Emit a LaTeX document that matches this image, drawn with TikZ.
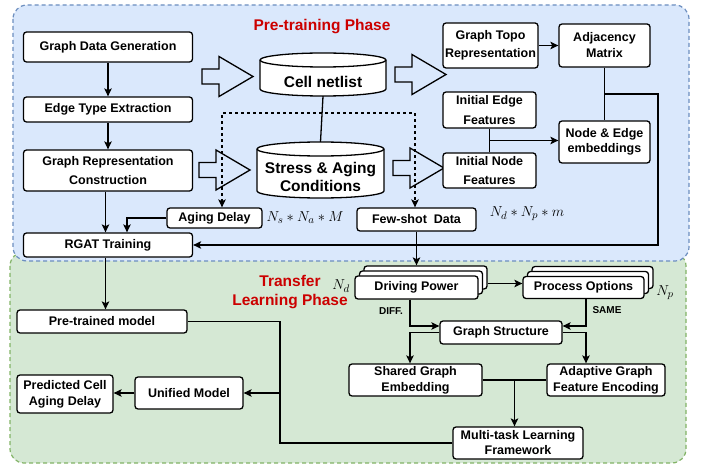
\documentclass[tikz,border=0pt]{standalone}
\usepackage{fontspec}
\setmainfont{Liberation Sans}
\usepackage{tikz}
\usetikzlibrary{arrows.meta,calc,shadows}

\definecolor{bluefill}{HTML}{DAE8FC}
\definecolor{blueline}{HTML}{6C8EBF}
\definecolor{greenfill}{HTML}{D5E8D4}
\definecolor{greenline}{HTML}{82B366}
\definecolor{phasered}{HTML}{CC0000}

\begin{document}
\begin{tikzpicture}[x=1pt,y=-1pt,>={Stealth[length=8pt,width=7.5pt,inset=1.8pt]}]
 \tikzstyle{procbox} = [draw=black,line width=1.3pt,fill=white,rounded corners=3pt,align=center,inner sep=0,font=\bfseries\fontsize{12.5}{15}\selectfont]
 \tikzstyle{stackbox} = [procbox,copy shadow={shadow xshift=9pt,shadow yshift=10pt,draw=black,fill=white,line width=1.3pt},copy shadow={shadow xshift=4.5pt,shadow yshift=5pt,draw=black,fill=white,line width=1.3pt}]
 \tikzstyle{cyltext} = [align=center,inner sep=0,font=\bfseries\fontsize{15.5}{18}\selectfont]
 \tikzstyle{fatarr} = [draw=black,line width=1.3pt,line join=miter]
 \tikzstyle{link} = [line width=1.3pt]
 \tikzstyle{dashlink} = [line width=1.3pt,dash pattern=on 3pt off 3pt]
 \tikzstyle{phase} = [text=phasered,align=center,font=\bfseries\fontsize{15.5}{19}\selectfont]
 \tikzstyle{count} = [font=\fontsize{15}{18}\selectfont]
 \tikzstyle{tag} = [font=\bfseries\fontsize{10}{12}\selectfont]
 \newcommand{\fatarrow}[2]{\draw[fatarr] (#1,{#2-7.5}) -- ({#1+17},{#2-7.5}) -- ({#1+17},{#2-20}) -- ({#1+51},#2) -- ({#1+17},{#2+20}) -- ({#1+17},{#2+7.5}) -- (#1,{#2+7.5}) -- cycle;}
 \newcommand{\dbcyl}[6]{%
  \draw[line width=1.3pt,fill=white] ({#2-#5/2},{#3+7}) -- ({#2-#5/2},{#4-7}) arc[start angle=180,end angle=360,x radius=#5/2*1pt,y radius=7pt]
        -- ({#2+#5/2},{#3+7}) arc[start angle=0,end angle=180,x radius=#5/2*1pt,y radius=7pt] -- cycle;
  \draw[line width=1.3pt] ({#2-#5/2},{#3+7}) arc[start angle=180,end angle=360,x radius=#5/2*1pt,y radius=7pt];
  \node[cyltext,minimum width=#5,minimum height={#4-#3-14}] (#1) at (#2,{(#3+#4+14)/2}) {#6};}

 \useasboundingbox (0,0) rectangle (702,465);

% Phases
 \draw[fill=greenfill,draw=greenline,line width=1.2pt,dash pattern=on 4pt off 3pt,rounded corners=14pt] (10,252) rectangle (686,463);
 \draw[fill=bluefill,draw=blueline,line width=1.2pt,dash pattern=on 4pt off 3pt,rounded corners=14pt] (13,5) rectangle (689,261);
 \node[phase] (tpre) at (322,27) {Pre-training Phase};
 \node[phase] (ttl) at (290,292.5) {Transfer\\Learning Phase};

% Block arrows
 \fatarrow{202}{76.5}
 \fatarrow{395}{74.5}
 \fatarrow{199}{170}
 \fatarrow{393}{168}

% Databases
 \dbcyl{cn}{323}{53}{96}{126}{Cell netlist}
 \dbcyl{sac}{320.5}{142}{198}{127}{Stress \& Aging\\Conditions}

% Nodes
 \node[procbox,minimum width=169,minimum height=30] (gdg) at (108,47) {Graph Data Generation};
 \node[procbox,minimum width=169,minimum height=25] (ete) at (108,109.5) {Edge Type Extraction};
 \node[procbox,minimum width=169,minimum height=41] (grc) at (108,170.5) {Graph Representation\\[4pt]Construction};
 \node[procbox,minimum width=169,minimum height=24] (rgat) at (108,245) {RGAT Training};
 \node[procbox,minimum width=95,minimum height=20] (ad) at (214.5,218) {Aging Delay};
 \node[procbox,minimum width=119,minimum height=23] (fs) at (416.5,219.5) {Few-shot~~Data};
 \node[procbox,minimum width=95,minimum height=45] (gtr) at (490.5,45.5) {Graph Topo\\[3pt]Representation};
 \node[procbox,minimum width=91,minimum height=43] (am) at (604.5,45.5) {Adjacency\\[1pt]Matrix};
 \node[procbox,minimum width=93,minimum height=36] (ief) at (489.5,110) {Initial Edge\\[5pt]Features};
 \node[procbox,minimum width=91,minimum height=42] (nee) at (604.5,142) {Node \& Edge\\embeddings};
 \node[procbox,minimum width=93,minimum height=35] (inf) at (489.5,170.5) {Initial Node\\[4pt]Features};
 \node[stackbox,minimum width=123,minimum height=23] (dp) at (416.5,287.5) {Driving Power};
 \node[stackbox,minimum width=121,minimum height=22] (po) at (583.5,287.5) {Process Options};
 \node[procbox,minimum width=122,minimum height=23] (gs) at (501,332.5) {Graph Structure};
 \node[procbox,minimum width=133,minimum height=32] (sge) at (415.5,380) {Shared Graph\\[1pt]Embedding};
 \node[procbox,minimum width=118,minimum height=32] (agfe) at (606,380) {Adaptive Graph\\[1pt]Feature Encoding};
 \node[procbox,minimum width=130,minimum height=32] (mtl) at (518,443) {Multi-task Learning\\Framework};
 \node[procbox,minimum width=170,minimum height=23] (ptm) at (102,321.5) {Pre-trained model};
 \node[procbox,minimum width=108,minimum height=32] (um) at (189,393) {Unified Model};
 \node[procbox,minimum width=96,minimum height=38] (pcad) at (65,394) {Predicted Cell\\[1pt]Aging Delay};

% Counts and tags
 \node[count] (lad) at (305,218) {$N_s * N_a * M$};
 \node[count] (lfs) at (527,214) {$N_d * N_p * m$};
 \node[count] (ldp) at (341,286) {$N_d$};
 \node[count] (lpo) at (665,293) {$N_p$};
 \node[tag] (tdiff) at (391,311) {DIFF.};
 \node[tag] (tsame) at (607,310) {SAME};

% Pre-training links
 \draw[link,->] (gdg) -- (ete);
 \draw[link,->] (ete) -- (grc);
 \coordinate (grs) at ([xshift=-2.5pt]grc.south);
 \draw[link,->] (grs) -- (grs |- rgat.north);
 \draw[link,->] (ad.west) -| ([xshift=19pt]rgat.north);
 \draw[link] (cn.south) -- ([yshift=14pt]sac.north);
 \draw[link,->] (gtr) -- (am);
 \draw[link] (am) -- (nee);
 \coordinate (amj) at ($(am.south)!0.5!(nee.north)$);
 \coordinate (rx) at (658,0);
 \draw[link,->] (amj) -| (rx |- rgat.east) -- (rgat.east);
 \draw[link] (ief) -- (inf);
 \coordinate (efj) at ($(ief.south)!0.5!(inf.north)$);
 \draw[link,->] (efj) -- (efj -| nee.west);
 \coordinate (dl) at (222,113);
 \coordinate (dr) at (415,113);
 \draw[dashlink,<->] (ad.north -| dl) -- (dl) -- (dr) -- (fs.north -| dr);

% Transfer links
 \draw[link,->] (fs.south) -- ([yshift=10pt]dp.north);
 \coordinate (dpo) at ([xshift=9pt,yshift=4pt]dp.east);
 \draw[link,->] (dpo) -- (dpo -| po.west);
 \draw[link,->] ([xshift=-6.5pt]dp.south) |- ([yshift=6.5pt]gs.west);
 \draw[link,->] ([xshift=2.5pt]po.south) |- ([yshift=6.5pt]gs.east);
 \draw[link,->] (gs.west) -| ([xshift=-5.5pt]sge.north);
 \draw[link,->] (gs.east) -| ([xshift=-20pt]agfe.north);
 \draw[link] (sge) -- (agfe);
 \coordinate (sgj) at ($(sge.east)!0.5!(agfe.west)$);
 \draw[link,->] (sgj) -- (sgj |- mtl.north);
 \coordinate (rgs) at ([xshift=-2.5pt]rgat.south);
 \draw[link,->] (rgs) -- (rgs |- ptm.north);
 \coordinate (mx) at (280,0);
 \draw[link] (mtl.west) -| (mx |- ptm.east) -- (ptm.east);
 \draw[link,->] (mx |- um.east) -- (um.east);
 \draw[link,->] (um.west) -- (um.west -| pcad.east);

\end{tikzpicture}
\end{document}
